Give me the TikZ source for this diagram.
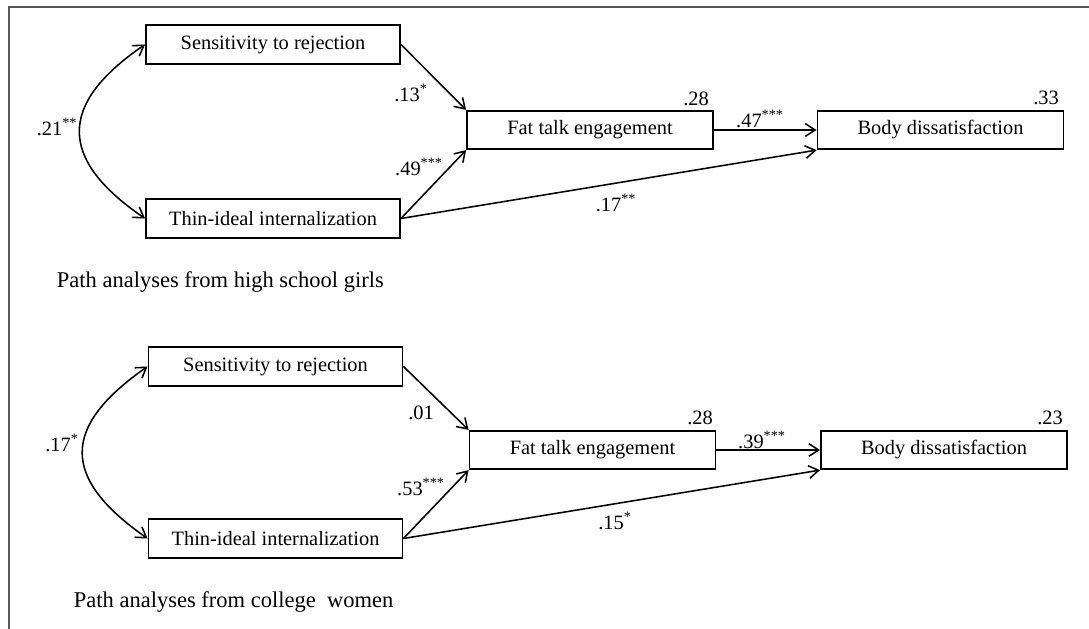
\documentclass[tikz,border=0pt]{standalone}
\usepackage{fontspec}
\setmainfont{Liberation Serif}
\usepackage{tikz}
\usetikzlibrary{arrows.meta}

\begin{document}
\begin{tikzpicture}[x=0.025cm,y=-0.025cm]
		\useasboundingbox (0,0) rectangle (1089,629);
		\draw[line width=1.3pt,black!65] (9,629) -- (9,7) -- (1089,7);

		\begin{scope}[every node/.style={rectangle,draw,line width=1.3pt,minimum height=0.96cm,
		              font=\fontsize{14.5}{17}\selectfont}]
			% high school girls
			\node[minimum width=6.35cm] (s1) at (273,44.5) {Sensitivity to rejection};
			\node[minimum width=6.35cm] (t1) at (273,218.5) {Thin-ideal internalization};
			\node[minimum width=6.15cm] (f1) at (590,130) {Fat talk engagement};
			\node[minimum width=6.15cm] (b1) at (940.5,130) {Body dissatisfaction};
			% college women
			\node[minimum width=6.35cm] (s2) at (275.5,366.5) {Sensitivity to rejection};
			\node[minimum width=6.35cm] (t2) at (275.5,538.5) {Thin-ideal internalization};
			\node[minimum width=6.15cm] (f2) at (592.5,450) {Fat talk engagement};
			\node[minimum width=6.15cm] (b2) at (944,450) {Body dissatisfaction};
		\end{scope}

		\begin{scope}[every node/.style={font=\fontsize{14.5}{17}\selectfont}]
			\node (c1) at (57,127) {.21\textsuperscript{**}};
			\node (p1) at (411,93) {.13\textsuperscript{*}};
			\node (q1) at (419,167) {.49\textsuperscript{***}};
			\node (r1) at (696,99) {.28};
			\node (m1) at (760,119) {.47\textsuperscript{***}};
			\node (u1) at (1046,98) {.33};
			\node (d1) at (616,203) {.17\textsuperscript{**}};
			\node (c2) at (62,443) {.17\textsuperscript{*}};
			\node (p2) at (421,413) {.01};
			\node (q2) at (421,487) {.53\textsuperscript{***}};
			\node (r2) at (700,418) {.28};
			\node (m2) at (762,440) {.39\textsuperscript{***}};
			\node (u2) at (1050,418) {.23};
			\node (d2) at (615,521) {.15\textsuperscript{*}};
		\end{scope}

		\begin{scope}[every node/.style={font=\fontsize{16}{19}\selectfont,anchor=west}]
			\node (h1) at (52,282) {Path analyses from high school girls};
			\node (h2) at (69,602) {Path analyses from college\ \ women};
		\end{scope}

		\begin{scope}[>={Straight Barb[length=7pt,width=9pt]},
		              every edge/.style={draw=black,line width=1.1pt,->}]
			\path (s1.east) edge (f1.north west);
			\path (t1.east) edge (f1.south west);
			\path (f1.east) edge (b1.west);
			\path (t1.east) edge (b1.south west);
			\path (s2.east) edge (f2.north west);
			\path (t2.east) edge (f2.south west);
			\path (f2.east) edge (b2.west);
			\path (t2.east) edge (b2.south west);
			\draw[<->,line width=1.1pt] (s1.west) .. controls (58,104) and (58,159) .. (t1.west);
			\draw[<->,line width=1.1pt] (s2.west) .. controls (61,427) and (61,478) .. (t2.west);
		\end{scope}
\end{tikzpicture}
\end{document}
